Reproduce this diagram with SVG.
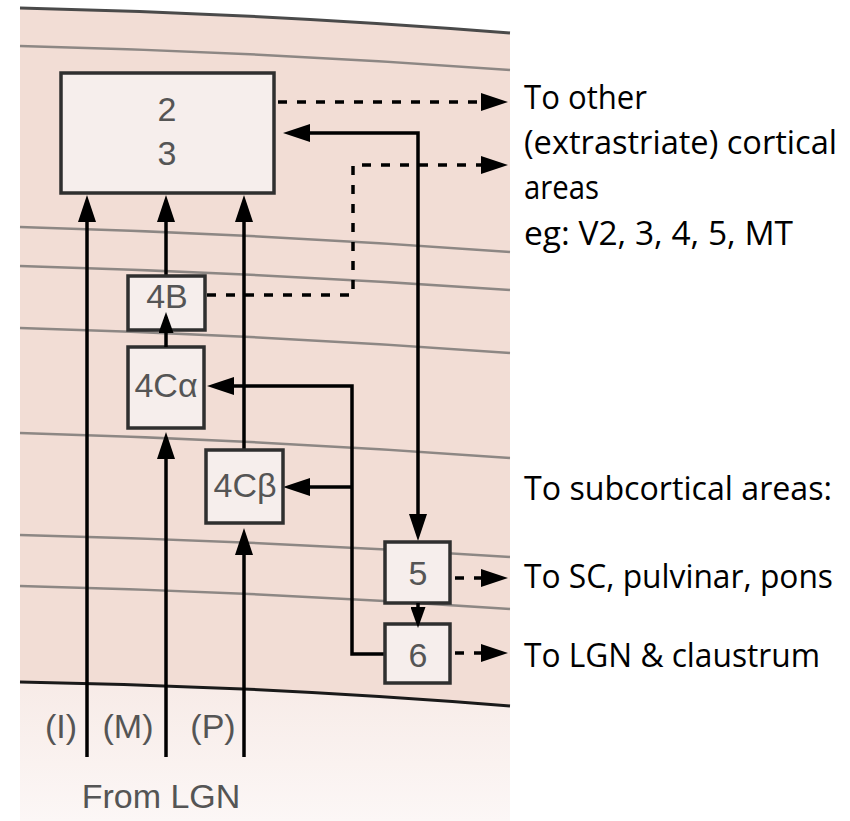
<svg xmlns="http://www.w3.org/2000/svg" width="850" height="821" viewBox="0 0 850 821">
<defs>
<linearGradient id="low" x1="0" y1="0" x2="0" y2="1">
<stop offset="0" stop-color="#f7ebe7"/>
<stop offset="1" stop-color="#fcf7f6"/>
</linearGradient>
<marker id="ah" markerUnits="userSpaceOnUse" markerWidth="27" markerHeight="18" refX="21" refY="9" orient="auto-start-reverse">
<path d="M0,0 L27,9 L0,18 z" fill="#000"/>
</marker>
<marker id="as" markerUnits="userSpaceOnUse" markerWidth="21" markerHeight="15" refX="16" refY="7.5" orient="auto">
<path d="M0,0 L21,7.5 L0,15 z" fill="#000"/>
</marker>
<style>
.layer{fill:none;stroke:#8d8784;stroke-width:2.5}
.box{fill:#f6eeec;stroke:#2f2f2f;stroke-width:3.5}
.lbl{font-family:"Liberation Sans",Arial,sans-serif;font-size:34px;fill:#555;text-anchor:middle}
.rt{font-family:"Open Sans","Noto Sans",sans-serif;font-size:33px;fill:#000}
.c{fill:none;stroke:#000;stroke-width:3.5}
.d{fill:none;stroke:#000;stroke-width:3.5;stroke-dasharray:9 10}
</style>
</defs>
<rect width="850" height="821" fill="#fff"/>
<g id="background">
<path d="M20,8 Q265,13.5 510,33 L510,706 Q265,686 20,682 Z" fill="#f2ddd5"/>
<path d="M20,682 Q265,686 510,706 L510,821 L20,821 Z" fill="url(#low)"/>
<path d="M20,8 Q265,13.5 510,33" fill="none" stroke="#4a4a4a" stroke-width="3"/>
<path class="layer" d="M20,46 Q265,52 510,70"/>
<path class="layer" d="M20,227 Q265,234 510,252"/>
<path class="layer" d="M20,266 Q265,273 510,290"/>
<path class="layer" d="M20,328 Q265,335 510,353"/>
<path class="layer" d="M20,433 Q265,440 510,458"/>
<path class="layer" d="M20,535 Q265,541 510,557"/>
<path class="layer" d="M20,586 Q265,592 510,609"/>
<path d="M20,682 Q265,686 510,706" fill="none" stroke="#1a1a1a" stroke-width="3"/>
</g>
<g id="connectors">
<path class="c" d="M87,757 V201" marker-end="url(#ah)"/>
<path class="c" d="M166,757 V438" marker-end="url(#ah)"/>
<path class="c" d="M166,276 V201" marker-end="url(#ah)"/>
<path class="c" d="M244,757 V534" marker-end="url(#ah)"/>
<path class="c" d="M244,450 V201" marker-end="url(#ah)"/>
<path class="c" d="M289,133 H418 V535" marker-start="url(#ah)" marker-end="url(#ah)"/>
<path class="c" d="M385,654 H352 V386 H213" marker-end="url(#ah)"/>
<path class="c" d="M352,487 H289" marker-end="url(#ah)"/>
<path class="d" d="M278,102 H502" marker-end="url(#ah)"/>
<path class="d" d="M207,295 H353 V165 H502" marker-end="url(#ah)"/>
<path class="d" d="M455,578 H502" marker-end="url(#ah)"/>
<path class="d" d="M455,653 H502" marker-end="url(#ah)"/>
</g>
<g id="n23"><rect class="box" x="61" y="73" width="213" height="120"/><text class="lbl" x="167" y="121">2</text><text class="lbl" x="167" y="165">3</text></g>
<g id="n4B"><rect class="box" x="128" y="276" width="77" height="54"/><text class="lbl" x="167" y="308">4B</text></g>
<g id="n4Ca"><rect class="box" x="128" y="347" width="76" height="81"/><text class="lbl" x="166" y="397">4Cα</text></g>
<g id="n4Cb"><rect class="box" x="206" y="450" width="77" height="73"/><text class="lbl" x="245" y="497">4Cβ</text></g>
<g id="n5"><rect class="box" x="385" y="542" width="65" height="61"/><text class="lbl" x="418" y="585">5</text></g>
<g id="n6"><rect class="box" x="385" y="624" width="65" height="59"/><text class="lbl" x="418" y="667">6</text></g>
<g id="arrows-small">
<path class="c" d="M166,347 V317" marker-end="url(#as)"/>
<path class="c" d="M418,603 V623" marker-end="url(#as)"/>
</g>
<g id="labels">
<text class="lbl" x="61" y="738">(I)</text>
<text class="lbl" x="128" y="738">(M)</text>
<text class="lbl" x="213" y="738">(P)</text>
<text class="lbl" x="161" y="808">From LGN</text>
<text class="rt" x="524" y="109" textLength="123" lengthAdjust="spacingAndGlyphs">To other</text>
<text class="rt" x="524" y="154" textLength="313" lengthAdjust="spacingAndGlyphs">(extrastriate) cortical</text>
<text class="rt" x="524" y="199" textLength="75" lengthAdjust="spacingAndGlyphs">areas</text>
<text class="rt" x="524" y="245" textLength="269" lengthAdjust="spacingAndGlyphs">eg: V2, 3, 4, 5, MT</text>
<text class="rt" x="524" y="500" textLength="308" lengthAdjust="spacingAndGlyphs">To subcortical areas:</text>
<text class="rt" x="524" y="588" textLength="309" lengthAdjust="spacingAndGlyphs">To SC, pulvinar, pons</text>
<text class="rt" x="524" y="667" textLength="296" lengthAdjust="spacingAndGlyphs">To LGN &amp; claustrum</text>
</g>
</svg>
